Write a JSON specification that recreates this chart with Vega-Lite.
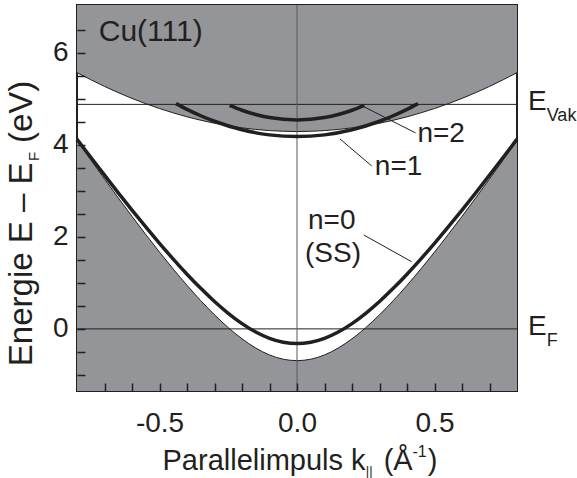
{
  "$schema": "https://vega.github.io/schema/vega-lite/v6.json",
  "width": 440,
  "height": 386,
  "autosize": {"type": "none"},
  "padding": {"left": 77, "top": 5, "right": 60, "bottom": 87},
  "background": "white",
  "config": {
    "view": {"stroke": "#231f20", "strokeWidth": 2},
    "font": "Liberation Sans",
    "axis": {"domain": false, "grid": false, "labelFont": "Liberation Sans", "labelFontSize": 28, "labelColor": "#231f20", "tickColor": "#231f20", "tickWidth": 1.5}
  },
  "datasets": {
    "bands": [
      {"band": "upper", "k": -0.8, "E": 5.57}, {"band": "upper", "k": -0.7, "E": 5.27}, {"band": "upper", "k": -0.6, "E": 5.01}, {"band": "upper", "k": -0.5, "E": 4.79}, {"band": "upper", "k": -0.4, "E": 4.61}, {"band": "upper", "k": -0.3, "E": 4.47}, {"band": "upper", "k": -0.2, "E": 4.37}, {"band": "upper", "k": -0.1, "E": 4.31}, {"band": "upper", "k": 0.0, "E": 4.29}, {"band": "upper", "k": 0.1, "E": 4.31}, {"band": "upper", "k": 0.2, "E": 4.37}, {"band": "upper", "k": 0.3, "E": 4.47}, {"band": "upper", "k": 0.4, "E": 4.61}, {"band": "upper", "k": 0.5, "E": 4.79}, {"band": "upper", "k": 0.6, "E": 5.01}, {"band": "upper", "k": 0.7, "E": 5.27}, {"band": "upper", "k": 0.8, "E": 5.57},
      {"band": "lower", "k": -0.8, "E": 4.098}, {"band": "lower", "k": -0.75, "E": 3.676}, {"band": "lower", "k": -0.7, "E": 3.259}, {"band": "lower", "k": -0.65, "E": 2.848}, {"band": "lower", "k": -0.6, "E": 2.446}, {"band": "lower", "k": -0.55, "E": 2.052}, {"band": "lower", "k": -0.5, "E": 1.669}, {"band": "lower", "k": -0.45, "E": 1.3}, {"band": "lower", "k": -0.4, "E": 0.947}, {"band": "lower", "k": -0.35, "E": 0.614}, {"band": "lower", "k": -0.3, "E": 0.306}, {"band": "lower", "k": -0.25, "E": 0.027}, {"band": "lower", "k": -0.2, "E": -0.216}, {"band": "lower", "k": -0.15, "E": -0.416}, {"band": "lower", "k": -0.1, "E": -0.566}, {"band": "lower", "k": -0.05, "E": -0.659}, {"band": "lower", "k": 0.0, "E": -0.69}, {"band": "lower", "k": 0.05, "E": -0.659}, {"band": "lower", "k": 0.1, "E": -0.566}, {"band": "lower", "k": 0.15, "E": -0.416}, {"band": "lower", "k": 0.2, "E": -0.216}, {"band": "lower", "k": 0.25, "E": 0.027}, {"band": "lower", "k": 0.3, "E": 0.306}, {"band": "lower", "k": 0.35, "E": 0.614}, {"band": "lower", "k": 0.4, "E": 0.947}, {"band": "lower", "k": 0.45, "E": 1.3}, {"band": "lower", "k": 0.5, "E": 1.669}, {"band": "lower", "k": 0.55, "E": 2.052}, {"band": "lower", "k": 0.6, "E": 2.446}, {"band": "lower", "k": 0.65, "E": 2.848}, {"band": "lower", "k": 0.7, "E": 3.259}, {"band": "lower", "k": 0.75, "E": 3.676}, {"band": "lower", "k": 0.8, "E": 4.098}
    ],
    "states": [
      {"state": "n=0", "k": -0.8, "E": 4.124}, {"state": "n=0", "k": -0.75, "E": 3.73}, {"state": "n=0", "k": -0.7, "E": 3.341}, {"state": "n=0", "k": -0.65, "E": 2.958}, {"state": "n=0", "k": -0.6, "E": 2.582}, {"state": "n=0", "k": -0.55, "E": 2.216}, {"state": "n=0", "k": -0.5, "E": 1.86}, {"state": "n=0", "k": -0.45, "E": 1.517}, {"state": "n=0", "k": -0.4, "E": 1.189}, {"state": "n=0", "k": -0.35, "E": 0.881}, {"state": "n=0", "k": -0.3, "E": 0.595}, {"state": "n=0", "k": -0.25, "E": 0.338}, {"state": "n=0", "k": -0.2, "E": 0.114}, {"state": "n=0", "k": -0.15, "E": -0.069}, {"state": "n=0", "k": -0.1, "E": -0.206}, {"state": "n=0", "k": -0.05, "E": -0.291}, {"state": "n=0", "k": 0.0, "E": -0.32}, {"state": "n=0", "k": 0.05, "E": -0.291}, {"state": "n=0", "k": 0.1, "E": -0.206}, {"state": "n=0", "k": 0.15, "E": -0.069}, {"state": "n=0", "k": 0.2, "E": 0.114}, {"state": "n=0", "k": 0.25, "E": 0.338}, {"state": "n=0", "k": 0.3, "E": 0.595}, {"state": "n=0", "k": 0.35, "E": 0.881}, {"state": "n=0", "k": 0.4, "E": 1.189}, {"state": "n=0", "k": 0.45, "E": 1.517}, {"state": "n=0", "k": 0.5, "E": 1.86}, {"state": "n=0", "k": 0.55, "E": 2.216}, {"state": "n=0", "k": 0.6, "E": 2.582}, {"state": "n=0", "k": 0.65, "E": 2.958}, {"state": "n=0", "k": 0.7, "E": 3.341}, {"state": "n=0", "k": 0.75, "E": 3.73}, {"state": "n=0", "k": 0.8, "E": 4.124},
      {"state": "n=1", "k": -0.44, "E": 4.896}, {"state": "n=1", "k": -0.4, "E": 4.772}, {"state": "n=1", "k": -0.35, "E": 4.633}, {"state": "n=1", "k": -0.3, "E": 4.513}, {"state": "n=1", "k": -0.2, "E": 4.328}, {"state": "n=1", "k": -0.1, "E": 4.217}, {"state": "n=1", "k": 0.0, "E": 4.18}, {"state": "n=1", "k": 0.1, "E": 4.217}, {"state": "n=1", "k": 0.2, "E": 4.328}, {"state": "n=1", "k": 0.3, "E": 4.513}, {"state": "n=1", "k": 0.35, "E": 4.633}, {"state": "n=1", "k": 0.4, "E": 4.772}, {"state": "n=1", "k": 0.44, "E": 4.896},
      {"state": "n=2", "k": -0.245, "E": 4.858}, {"state": "n=2", "k": -0.2, "E": 4.752}, {"state": "n=2", "k": -0.15, "E": 4.659}, {"state": "n=2", "k": -0.1, "E": 4.593}, {"state": "n=2", "k": 0.0, "E": 4.54}, {"state": "n=2", "k": 0.1, "E": 4.593}, {"state": "n=2", "k": 0.15, "E": 4.659}, {"state": "n=2", "k": 0.2, "E": 4.752}, {"state": "n=2", "k": 0.245, "E": 4.858}
    ],
    "levels": [{"name": "E_F", "E": 0}, {"name": "E_Vak", "E": 4.88}],
    "leaders": [
      {"label": "n=2", "k": 0.243, "E": 4.83, "k2": 0.431, "E2": 4.26},
      {"label": "n=1", "k": 0.156, "E": 4.13, "k2": 0.272, "E2": 3.54},
      {"label": "n=0", "k": 0.243, "E": 2.04, "k2": 0.417, "E2": 1.46}
    ],
    "labels": [
      {"role": "big", "text": "Cu(111)", "k": -0.721, "E": 6.45},
      {"role": "main", "text": "n=2", "k": 0.438, "E": 4.24},
      {"role": "main", "text": "n=1", "k": 0.283, "E": 3.52},
      {"role": "main", "text": "n=0", "k": 0.04, "E": 2.35},
      {"role": "main", "text": "(SS)", "k": 0.029, "E": 1.63},
      {"role": "main", "text": "E", "k": 0.84, "E": 4.93},
      {"role": "sub", "text": "Vak", "k": 0.908, "E": 4.63},
      {"role": "main", "text": "E", "k": 0.84, "E": 0.04},
      {"role": "sub", "text": "F", "k": 0.908, "E": -0.26},
      {"role": "xtitle", "text": "Parallelimpuls k", "k": -0.489, "E": -2.87},
      {"role": "tiny", "text": "||", "k": 0.25, "E": -3.08},
      {"role": "xtitle", "text": "(Å", "k": 0.315, "E": -2.87},
      {"role": "sup", "text": "-1", "k": 0.42, "E": -2.68},
      {"role": "xtitle", "text": ")", "k": 0.475, "E": -2.87},
      {"role": "ytitle", "text": "Energie E – E", "k": -1.0, "E": -0.81},
      {"role": "ytitle_sub", "text": "F", "k": -0.958, "E": 3.65},
      {"role": "ytitle", "text": "(eV)", "k": -1.0, "E": 4.04}
    ]
  },
  "layer": [
    {
      "encoding": {
        "x": {"field": "k", "type": "quantitative", "scale": {"domain": [-0.8, 0.8], "nice": false, "zero": false},
          "axis": {"title": null, "zindex": 1, "values": [-0.7, -0.6, -0.5, -0.4, -0.3, -0.2, -0.1, 0, 0.1, 0.2, 0.3, 0.4, 0.5, 0.6, 0.7], "tickSize": -8, "labelPadding": 26, "labelFlush": false, "labelOverlap": false, "labelExpr": "abs(datum.value+0.5)<0.001 ? '-0.5' : abs(datum.value)<0.001 ? '0.0' : abs(datum.value-0.5)<0.001 ? '0.5' : ''",
            "encoding": {"ticks": {"update": {"y2": {"signal": "abs(datum.value*2 - round(datum.value*2)) < 0.001 ? -11 : -7"}}}}}},
        "y": {"field": "E", "type": "quantitative", "scale": {"domain": [-1.35, 7.04], "nice": false, "zero": false},
          "axis": {"title": null, "zindex": 1, "values": [-1, -0.5, 0, 0.5, 1, 1.5, 2, 2.5, 3, 3.5, 4, 4.5, 5, 5.5, 6, 6.5], "tickSize": -8, "labelPadding": 17, "labelFlush": false, "labelOverlap": false, "labelExpr": "abs(datum.value % 2) < 0.001 ? format(datum.value, 'd') : ''",
            "encoding": {"ticks": {"update": {"x2": {"signal": "abs(datum.value - round(datum.value)) < 0.001 ? 11 : 7"}}}}}}
      },
      "layer": [
        {"data": {"name": "bands"}, "transform": [{"filter": "datum.band === 'upper'"}],
          "mark": {"type": "area", "color": "#939598", "interpolate": "monotone"},
          "encoding": {"y2": {"datum": 7.04}}},
        {"data": {"name": "bands"}, "transform": [{"filter": "datum.band === 'lower'"}],
          "mark": {"type": "area", "color": "#939598", "interpolate": "monotone"},
          "encoding": {"y2": {"datum": -1.35}}},
        {"data": {"name": "bands"},
          "mark": {"type": "line", "color": "#231f20", "strokeWidth": 1, "interpolate": "monotone"},
          "encoding": {"detail": {"field": "band"}}}
      ]
    },
    {"data": {"name": "levels"},
      "mark": {"type": "rule", "color": "#231f20", "strokeWidth": 1},
      "encoding": {
        "y": {"field": "E", "type": "quantitative", "scale": {"domain": [-1.35, 7.04], "nice": false, "zero": false},
          "axis": {"title": null, "zindex": 1, "values": [-1, -0.5, 0, 0.5, 1, 1.5, 2, 2.5, 3, 3.5, 4, 4.5, 5, 5.5, 6, 6.5], "tickSize": -8, "labelPadding": 17, "labelFlush": false, "labelOverlap": false, "labelExpr": "abs(datum.value % 2) < 0.001 ? format(datum.value, 'd') : ''",
            "encoding": {"ticks": {"update": {"x2": {"signal": "abs(datum.value - round(datum.value)) < 0.001 ? 11 : 7"}}}}}}}},
    {"data": {"values": [{"k": 0}]},
      "mark": {"type": "rule", "color": "#58585a", "strokeWidth": 1},
      "encoding": {
        "x": {"field": "k", "type": "quantitative", "scale": {"domain": [-0.8, 0.8], "nice": false, "zero": false},
          "axis": {"title": null, "zindex": 1, "values": [-0.7, -0.6, -0.5, -0.4, -0.3, -0.2, -0.1, 0, 0.1, 0.2, 0.3, 0.4, 0.5, 0.6, 0.7], "tickSize": -8, "labelPadding": 26, "labelFlush": false, "labelOverlap": false, "labelExpr": "abs(datum.value+0.5)<0.001 ? '-0.5' : abs(datum.value)<0.001 ? '0.0' : abs(datum.value-0.5)<0.001 ? '0.5' : ''",
            "encoding": {"ticks": {"update": {"y2": {"signal": "abs(datum.value*2 - round(datum.value*2)) < 0.001 ? -11 : -7"}}}}}}}},
    {
      "encoding": {
        "x": {"field": "k", "type": "quantitative", "scale": {"domain": [-0.8, 0.8], "nice": false, "zero": false},
          "axis": {"title": null, "zindex": 1, "values": [-0.7, -0.6, -0.5, -0.4, -0.3, -0.2, -0.1, 0, 0.1, 0.2, 0.3, 0.4, 0.5, 0.6, 0.7], "tickSize": -8, "labelPadding": 26, "labelFlush": false, "labelOverlap": false, "labelExpr": "abs(datum.value+0.5)<0.001 ? '-0.5' : abs(datum.value)<0.001 ? '0.0' : abs(datum.value-0.5)<0.001 ? '0.5' : ''",
            "encoding": {"ticks": {"update": {"y2": {"signal": "abs(datum.value*2 - round(datum.value*2)) < 0.001 ? -11 : -7"}}}}}},
        "y": {"field": "E", "type": "quantitative", "scale": {"domain": [-1.35, 7.04], "nice": false, "zero": false},
          "axis": {"title": null, "zindex": 1, "values": [-1, -0.5, 0, 0.5, 1, 1.5, 2, 2.5, 3, 3.5, 4, 4.5, 5, 5.5, 6, 6.5], "tickSize": -8, "labelPadding": 17, "labelFlush": false, "labelOverlap": false, "labelExpr": "abs(datum.value % 2) < 0.001 ? format(datum.value, 'd') : ''",
            "encoding": {"ticks": {"update": {"x2": {"signal": "abs(datum.value - round(datum.value)) < 0.001 ? 11 : 7"}}}}}}
      },
      "layer": [
        {"data": {"name": "states"},
          "mark": {"type": "line", "color": "#231f20", "strokeWidth": 3.5, "interpolate": "monotone", "strokeCap": "butt"},
          "encoding": {"detail": {"field": "state"}}},
        {"data": {"name": "leaders"},
          "mark": {"type": "rule", "color": "#231f20", "strokeWidth": 1},
          "encoding": {"x2": {"field": "k2"}, "y2": {"field": "E2"}}},
        {"data": {"name": "labels"}, "transform": [{"filter": "datum.role === 'big'"}],
          "mark": {"type": "text", "align": "left", "baseline": "middle", "fontSize": 30, "color": "#231f20"},
          "encoding": {"text": {"field": "text"}}},
        {"data": {"name": "labels"}, "transform": [{"filter": "datum.role === 'main'"}],
          "mark": {"type": "text", "align": "left", "baseline": "middle", "fontSize": 28, "color": "#231f20"},
          "encoding": {"text": {"field": "text"}}},
        {"data": {"name": "labels"}, "transform": [{"filter": "datum.role === 'xtitle'"}],
          "mark": {"type": "text", "align": "left", "baseline": "middle", "fontSize": 29, "color": "#231f20"},
          "encoding": {"text": {"field": "text"}}},
        {"data": {"name": "labels"}, "transform": [{"filter": "datum.role === 'sub'"}],
          "mark": {"type": "text", "align": "left", "baseline": "middle", "fontSize": 18, "color": "#231f20"},
          "encoding": {"text": {"field": "text"}}},
        {"data": {"name": "labels"}, "transform": [{"filter": "datum.role === 'sup'"}],
          "mark": {"type": "text", "align": "left", "baseline": "middle", "fontSize": 16, "color": "#231f20"},
          "encoding": {"text": {"field": "text"}}},
        {"data": {"name": "labels"}, "transform": [{"filter": "datum.role === 'tiny'"}],
          "mark": {"type": "text", "align": "left", "baseline": "middle", "fontSize": 13, "color": "#231f20"},
          "encoding": {"text": {"field": "text"}}},
        {"data": {"name": "labels"}, "transform": [{"filter": "datum.role === 'ytitle'"}],
          "mark": {"type": "text", "align": "left", "baseline": "middle", "fontSize": 33, "angle": 270, "color": "#231f20"},
          "encoding": {"text": {"field": "text"}}},
        {"data": {"name": "labels"}, "transform": [{"filter": "datum.role === 'ytitle_sub'"}],
          "mark": {"type": "text", "align": "left", "baseline": "middle", "fontSize": 15, "angle": 270, "color": "#231f20"},
          "encoding": {"text": {"field": "text"}}}
      ]
    }
  ]
}
